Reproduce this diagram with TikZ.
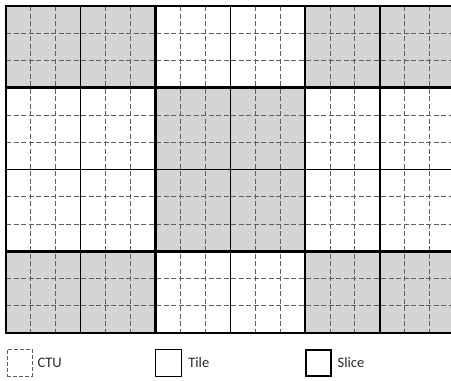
\documentclass[tikz,border=0pt]{standalone}
\usepackage{fontspec}
\setmainfont{Carlito}
\usepackage{tikz}
\usetikzlibrary{positioning}
\definecolor{slicegray}{RGB}{212,212,212}
\definecolor{myctu}{RGB}{95,95,95}
\definecolor{mytext}{RGB}{40,40,40}
\tikzset{
  ctuline/.style={color=myctu, line width=0.9pt, dash pattern=on 5pt off 2.5pt},
  tileline/.style={color=black, line width=1.4pt},
  sliceline/.style={color=black, line width=2.6pt},
  ctubox/.style={rectangle, draw=myctu, line width=0.9pt, dash pattern=on 4pt off 2pt,
    minimum width=25pt, minimum height=27pt, inner sep=0pt},
  tilebox/.style={rectangle, draw=black, line width=1.2pt,
    minimum width=26pt, minimum height=27pt, inner sep=0pt},
  slicebox/.style={rectangle, draw=black, line width=2.8pt,
    minimum width=25pt, minimum height=26pt, inner sep=0pt},
  legendtext/.style={inner sep=0pt, text=mytext, font=\fontsize{14.5}{16}\selectfont}
}

\begin{document}
\begin{tikzpicture}[x=1pt, y=-1pt]
  \useasboundingbox (0,0) rectangle (451,381);

  % Picture grid, in CTU units
  \begin{scope}[xshift=6pt, yshift=-6pt, x=24.92pt, y=-27.25pt]
    % Gray slices
    \fill[slicegray] (0,0) rectangle (6,3);
    \fill[slicegray] (12,0) rectangle (18,3);
    \fill[slicegray] (6,3) rectangle (12,9);
    \fill[slicegray] (0,9) rectangle (6,12);
    \fill[slicegray] (12,9) rectangle (18,12);

    % CTU boundaries
    \foreach \i in {1,...,17}
      \draw[ctuline] (\i,0) -- (\i,12);
    \foreach \j in {1,...,11}
      \draw[ctuline] (0,\j) -- (18,\j);

    % Tile boundaries
    \foreach \i in {3,9,15}
      \draw[tileline] (\i,0) -- (\i,12);
    \draw[tileline] (0,6) -- (18,6);

    % Slice boundaries
    \foreach \i in {6,12}
      \draw[sliceline] (\i,0) -- (\i,12);
    \foreach \j in {3,9}
      \draw[sliceline] (0,\j) -- (18,\j);
    \draw[sliceline] (0,0) rectangle (18,12);
  \end{scope}

  % Legend
  \node[ctubox] (ctu) at (19.5,362.5) {};
  \node[legendtext, anchor=west, right=5pt of ctu] (ctulabel) {CTU};
  \node[tilebox] (tile) at (168.5,363) {};
  \node[legendtext, anchor=west, right=6pt of tile] (tilelabel) {Tile};
  \node[slicebox] (slice) at (318.5,363) {};
  \node[legendtext, anchor=west, right=5pt of slice] (slicelabel) {Slice};
\end{tikzpicture}
\end{document}
